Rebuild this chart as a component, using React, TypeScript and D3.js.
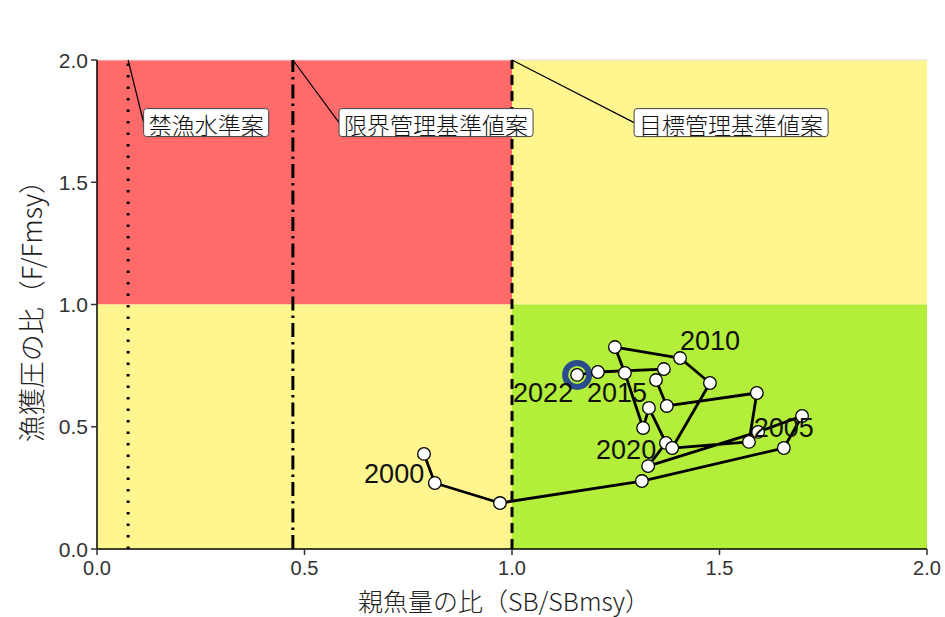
import React from "react";
import * as d3 from "d3";

const years = [2000,2001,2002,2003,2004,2005,2006,2007,2008,2009,2010,2011,2012,2013,2014,2015,2016,2017,2018,2019,2020,2021,2022];
const sbRatio = [0.788,0.814,0.971,1.313,1.655,1.699,1.593,1.328,1.371,1.330,1.316,1.272,1.248,1.405,1.477,1.386,1.571,1.590,1.373,1.347,1.366,1.207,1.157];
const fRatio = [0.389,0.270,0.188,0.278,0.413,0.544,0.479,0.339,0.434,0.577,0.495,0.720,0.826,0.781,0.679,0.413,0.438,0.638,0.585,0.691,0.736,0.724,0.712];

const yearLabels = ["2000","2005","2010","2015","2020","2022"];
const yearLabelX = [0.716,1.655,1.477,1.253,1.275,1.075];
const yearLabelY = [0.307,0.495,0.851,0.638,0.405,0.638];

const refNames = ["禁漁水準案","限界管理基準値案","目標管理基準値案"];
const refValues = [0.075,0.472,1.0];
const refDash = ["2.5 9","14 5 2.5 5","10 6"];
const refLabelX = [0.263,0.817,1.528];
const refLabelY = [1.744,1.744,1.744];

const xTicks = [0,0.5,1,1.5,2];
const yTicks = [0,0.5,1,1.5,2];

const W = 945, H = 617;
const M = { left: 97, right: 18, top: 60, bottom: 68 };

const FONT = "'Liberation Sans', Arial, 'Noto Sans CJK JP', sans-serif";
const CJK = "'Noto Sans CJK JP', 'Liberation Sans', sans-serif";

export default function App() {
  const x = d3.scaleLinear().domain([0, 2]).range([M.left, W - M.right]);
  const y = d3.scaleLinear().domain([0, 2]).range([H - M.bottom, M.top]);
  const pts = years.map((yr, i) => ({ yr, sb: sbRatio[i], f: fRatio[i] }));
  const line = d3.line<any>().x(d => x(d.sb)).y(d => y(d.f));
  const last = pts[pts.length - 1];

  const refFont = 23;
  return (
    <svg width={W} height={H} style={{ position: "absolute", left: 0, top: 0, background: "#fff" }}>
      <rect x={x(0)} y={y(2)} width={x(1) - x(0)} height={y(1) - y(2)} fill="#FF6A6A" />
      <rect x={x(1)} y={y(2)} width={x(2) - x(1)} height={y(1) - y(2)} fill="#FFF68F" />
      <rect x={x(0)} y={y(1)} width={x(1) - x(0)} height={y(0) - y(1)} fill="#FFF68F" />
      <rect x={x(1)} y={y(1)} width={x(2) - x(1)} height={y(0) - y(1)} fill="#B3EE3A" />
      <line x1={x(0)} x2={x(2)} y1={y(2)} y2={y(2)} stroke="#e8e0e0" strokeWidth={1} />

      {refValues.map((v, i) => (
        <line key={"r" + i} x1={x(v)} x2={x(v)} y1={y(0)} y2={y(2)} stroke="#000" strokeWidth={3}
          strokeDasharray={refDash[i]} />
      ))}

      {refNames.map((n, i) => {
        const w = n.length * refFont + 10;
        const cx = x(refLabelX[i]);
        const cy = y(refLabelY[i]);
        return (
          <g key={"rl" + i}>
            <line x1={x(refValues[i])} y1={y(2)} x2={cx - w / 2} y2={cy} stroke="#000" strokeWidth={1.2} />
            <rect x={cx - w / 2} y={cy - 14} width={w} height={28} rx={3} fill="#fff" stroke="#444" strokeWidth={1} />
            <text x={cx} y={cy + 1} textAnchor="middle" dominantBaseline="central" fontFamily={CJK}
              fontSize={refFont} fontWeight={300} fill="#111">{n}</text>
          </g>
        );
      })}

      <path d={line(pts) || ""} fill="none" stroke="#000" strokeWidth={2.8} strokeLinejoin="round" />
      <circle cx={x(last.sb)} cy={y(last.f)} r={12} fill="none" stroke="#2B4C8C" strokeWidth={6} />
      {pts.map((p, i) => (
        <circle key={"p" + i} cx={x(p.sb)} cy={y(p.f)} r={6.3} fill="#fff" stroke="#000" strokeWidth={1.3} />
      ))}

      {yearLabels.map((t, i) => (
        <text key={"y" + i} x={x(yearLabelX[i])} y={y(yearLabelY[i])} textAnchor="middle" dominantBaseline="central"
          fontFamily={FONT} fontSize={27} fill="#111">{t}</text>
      ))}

      <line x1={x(0)} x2={x(0)} y1={y(0)} y2={y(2)} stroke="#000" strokeWidth={1.5} />
      <line x1={x(0)} x2={x(2)} y1={y(0)} y2={y(0)} stroke="#000" strokeWidth={1.5} />
      {xTicks.map((t, i) => (
        <g key={"xt" + i}>
          <line x1={x(t)} x2={x(t)} y1={y(0)} y2={y(0) + 6} stroke="#333" strokeWidth={1.5} />
          <text x={x(t)} y={y(0) + 19} textAnchor="middle" dominantBaseline="central" fontFamily={FONT}
            fontSize={20} fill="#333">{t.toFixed(1)}</text>
        </g>
      ))}
      {yTicks.map((t, i) => (
        <g key={"yt" + i}>
          <line x1={x(0) - 6} x2={x(0)} y1={y(t)} y2={y(t)} stroke="#333" strokeWidth={1.5} />
          <text x={x(0) - 9} y={y(t)} textAnchor="end" dominantBaseline="central" fontFamily={FONT}
            fontSize={21} fill="#333">{t.toFixed(1)}</text>
        </g>
      ))}
      <text x={(x(0) + x(2)) / 2 - 8} y={H - 6} textAnchor="middle" fontFamily={CJK} fontSize={25} fontWeight={300} fill="#222">親魚量の比（SB/SBmsy）</text>
      <text transform={`translate(30,${(y(0) + y(2)) / 2}) rotate(-90)`} textAnchor="middle" dominantBaseline="central"
        fontFamily={CJK} fontSize={27} fontWeight={300} fill="#222">漁獲圧の比（F/Fmsy）</text>
    </svg>
  );
}
